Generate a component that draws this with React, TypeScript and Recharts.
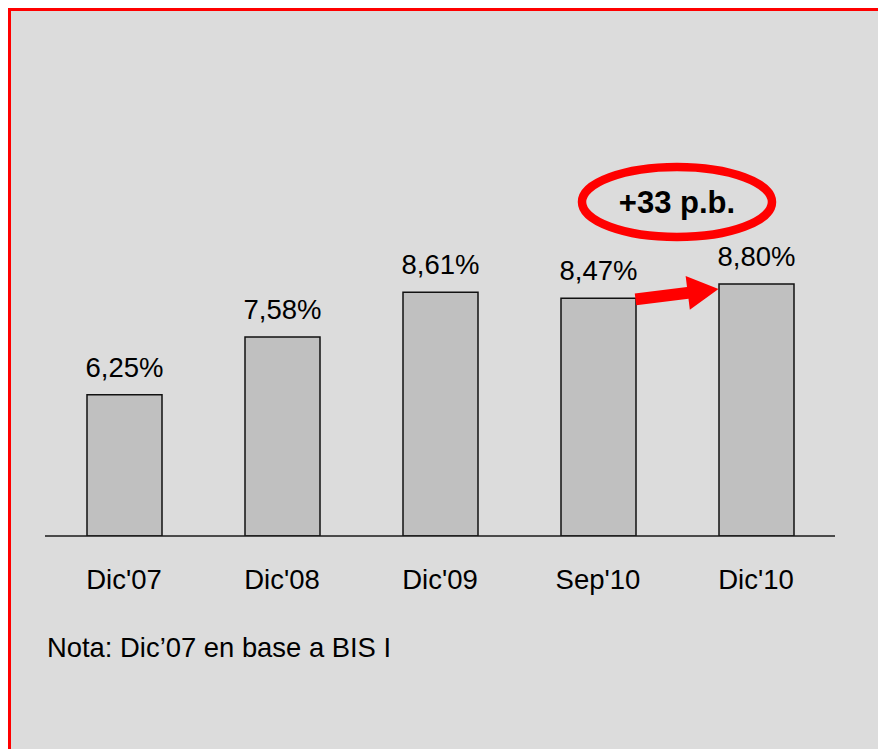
import { BarChart, Bar, XAxis, YAxis, LabelList } from 'recharts'

const categories = ["Dic'07", "Dic'08", "Dic'09", "Sep'10", "Dic'10"]
const ratios = [6.25, 7.58, 8.61, 8.47, 8.8]
const deltaLabel = '+33 p.b.'
const note = 'Nota: Dic’07 en base a BIS I'

const data = categories.map((name, i) => ({ name, value: ratios[i] }))

const FONT = '"Liberation Sans", Arial, Helvetica, sans-serif'
const RED = '#ff0000'

// chart box, relative to the grey panel (its padding box starts at page 11,11)
const CHART_X = 34
const CHART_Y = 134
const PLOT_W = 790
const PLOT_H = 391
const AXIS_H = 70
const Y_DOMAIN: [number, number] = [3, 12]
const BAR_SIZE = 75

// same maths the chart uses, so annotations follow the bars
const band = PLOT_W / categories.length
const barLeft = (i: number) => CHART_X + band * i + (band - BAR_SIZE) / 2
const yPos = (v: number) =>
  CHART_Y + PLOT_H - ((v - Y_DOMAIN[0]) / (Y_DOMAIN[1] - Y_DOMAIN[0])) * PLOT_H

const fmt = (v: number) => `${v.toFixed(2).replace('.', ',')}%`

const renderValue = (props: any) => {
  const { x, y, width, value } = props
  return (
    <text x={x + width / 2} y={y - 18} textAnchor="middle" fontSize={27.5} fontFamily={FONT} fill="#000">
      {fmt(value)}
    </text>
  )
}

const CategoryTick = ({ x, y, payload }: any) => (
  <text x={x} y={y + 53} textAnchor="middle" fontSize={27.5} fontFamily={FONT} fill="#000">
    {payload.value}
  </text>
)

function arrowPoints(x1: number, y1: number, x2: number, y2: number) {
  const dx = x2 - x1
  const dy = y2 - y1
  const len = Math.hypot(dx, dy)
  const ux = dx / len
  const uy = dy / len
  const nx = -uy
  const ny = ux
  const shaft = 6
  const head = 17
  const headLen = 31
  const bx = x2 - ux * headLen
  const by = y2 - uy * headLen
  const pts = [
    [x1 + nx * shaft, y1 + ny * shaft],
    [bx + nx * shaft, by + ny * shaft],
    [bx + nx * head, by + ny * head],
    [x2, y2],
    [bx - nx * head, by - ny * head],
    [bx - nx * shaft, by - ny * shaft],
    [x1 - nx * shaft, y1 - ny * shaft],
  ]
  return pts.map((p) => p.join(',')).join(' ')
}

function Annotations() {
  const from = 3
  const to = 4
  const ax1 = barLeft(from) + BAR_SIZE
  const ay1 = yPos(ratios[from]) + 1
  const ax2 = barLeft(to)
  const ay2 = yPos(ratios[to]) + 5
  const cx = (barLeft(from) + barLeft(to) + BAR_SIZE) / 2
  const cy = yPos(ratios[to]) - 82
  return (
    <svg width={880} height={760} style={{ position: 'absolute', left: 0, top: 0, pointerEvents: 'none' }}>
      <polygon points={arrowPoints(ax1, ay1, ax2, ay2)} fill={RED} />
      <ellipse cx={cx} cy={cy} rx={95} ry={35} fill="none" stroke={RED} strokeWidth={8.5} />
      <text x={cx} y={cy + 11} textAnchor="middle" fontSize={31} fontWeight="bold" fontFamily={FONT} fill="#000">
        {deltaLabel}
      </text>
      <text x={36} y={646} fontSize={27.4} fontFamily={FONT} fill="#000">
        {note}
      </text>
    </svg>
  )
}

export default function App() {
  return (
    <div
      style={{
        position: 'fixed',
        left: 8,
        top: 8,
        width: 880,
        height: 760,
        background: '#dcdcdc',
        borderTop: `3px solid ${RED}`,
        borderLeft: `3px solid ${RED}`,
        fontFamily: FONT,
        overflow: 'hidden',
      }}
    >
      <div style={{ position: 'absolute', left: CHART_X, top: CHART_Y }}>
        <BarChart
          width={PLOT_W}
          height={PLOT_H + AXIS_H}
          data={data}
          margin={{ top: 0, right: 0, bottom: 0, left: 0 }}
          barSize={BAR_SIZE}
        >
          <XAxis
            dataKey="name"
            height={AXIS_H}
            tickLine={false}
            tickSize={0}
            tickMargin={0}
            axisLine={{ stroke: '#1a1a1a', strokeWidth: 1.5 }}
            tick={<CategoryTick />}
            interval={0}
          />
          <YAxis hide domain={Y_DOMAIN} allowDataOverflow />
          <Bar dataKey="value" fill="#c0c0c0" stroke="#111" strokeWidth={1.5} isAnimationActive={false}>
            <LabelList dataKey="value" content={renderValue} />
          </Bar>
        </BarChart>
      </div>
      <Annotations />
    </div>
  )
}
